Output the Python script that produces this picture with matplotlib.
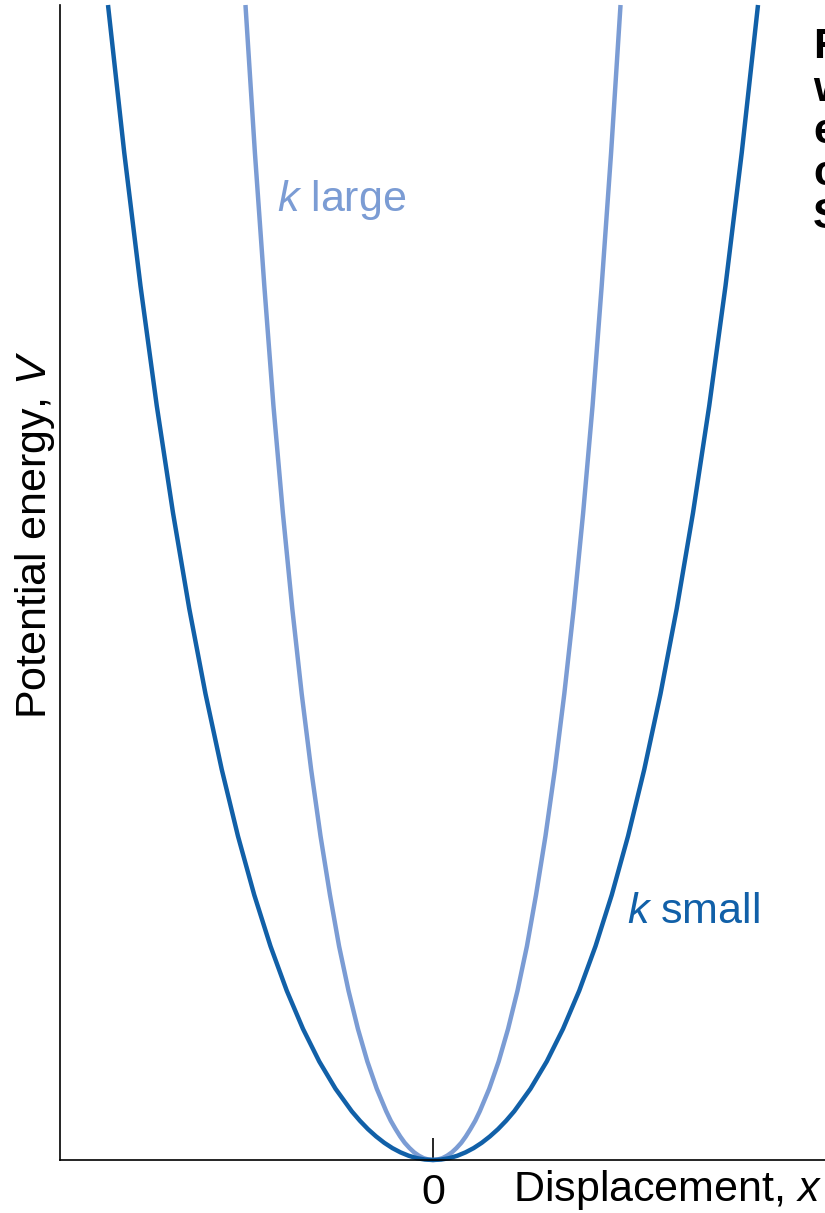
import numpy as np
import matplotlib.pyplot as plt

plt.rcParams['font.family'] = ['Liberation Sans', 'DejaVu Sans']
plt.rcParams['mathtext.fontset'] = 'custom'
plt.rcParams['mathtext.rm'] = 'Liberation Sans'
plt.rcParams['mathtext.it'] = 'Liberation Sans:italic'

# half-widths of each well (right side), same energy levels
energy = [0.0, 0.0004, 0.0016, 0.0037, 0.0066, 0.0103, 0.0149, 0.0204, 0.0267,
          0.0340, 0.0422, 0.0617, 0.0853, 0.1135, 0.1466, 0.1851, 0.2295,
          0.2803, 0.3381, 0.4036, 0.4774, 0.5603, 0.6531, 0.7567, 0.8721, 1.0]
disp_small = [0.0, 0.025, 0.05, 0.075, 0.10, 0.125, 0.15, 0.175, 0.20, 0.225,
              0.25, 0.30, 0.35, 0.40, 0.45, 0.50, 0.55, 0.60, 0.65, 0.70,
              0.75, 0.80, 0.85, 0.90, 0.95, 1.0]
disp_large = [0.0, 0.0144, 0.029, 0.0433, 0.058, 0.0721, 0.087, 0.101, 0.115,
              0.130, 0.144, 0.173, 0.202, 0.231, 0.260, 0.289, 0.317, 0.346,
              0.375, 0.404, 0.433, 0.462, 0.491, 0.519, 0.548, 0.577]

dark_blue = '#1160a8'
light_blue = '#7b9cd4'


def full_curve(half_x, half_v):
    hx = np.array(half_x)
    hv = np.array(half_v)
    x = np.concatenate([-hx[::-1], hx[1:]])
    v = np.concatenate([hv[::-1], hv[1:]])
    return x, v


fig = plt.figure(figsize=(8.25, 12.13), dpi=100)
ax = fig.add_axes([60 / 825, 1 - 1160 / 1213, 1 - 60 / 825, 1155 / 1213])

xs, vs = full_curve(disp_small, energy)
xl, vl = full_curve(disp_large, energy)
ax.plot(xl, vl, color=light_blue, lw=3.2, solid_joinstyle='round',
        solid_capstyle='butt', clip_on=False)
ax.plot(xs, vs, color=dark_blue, lw=3.2, solid_joinstyle='round',
        solid_capstyle='butt', clip_on=False)

ax.set_xlim(-373 / 325, 392 / 325)
ax.set_ylim(0, 1)

for side in ['top', 'right']:
    ax.spines[side].set_visible(False)
for side in ['left', 'bottom']:
    ax.spines[side].set_linewidth(1.2)
    ax.spines[side].set_color('black')

ax.set_yticks([])
ax.set_xticks([0])
ax.set_xticklabels(['0'])
ax.tick_params(axis='x', direction='in', length=16, width=1.2, pad=9,
               labelsize=31)

ax.text(-0.48, 0.831, '$k$ large', color=light_blue, fontsize=31,
        ha='left', va='center')
ax.text(0.597, 0.215, '$k$ small', color=dark_blue, fontsize=31,
        ha='left', va='center')

fig.text(513 / 825, 1 - 1190 / 1213, 'Displacement, $x$', fontsize=31,
         ha='left', va='center')
fig.text(35 / 825, 1 - 535 / 1213, 'Potential energy, $V$', fontsize=31,
         ha='center', va='center', rotation=90)

# caption cut off by the right edge of the page
fig.text(813 / 825, 1 - 132 / 1213, 'F\nw\ne\nc\nS', fontsize=31,
         ha='left', va='center', linespacing=1.08, fontweight='bold')

fig.savefig('out.png', dpi=100)
